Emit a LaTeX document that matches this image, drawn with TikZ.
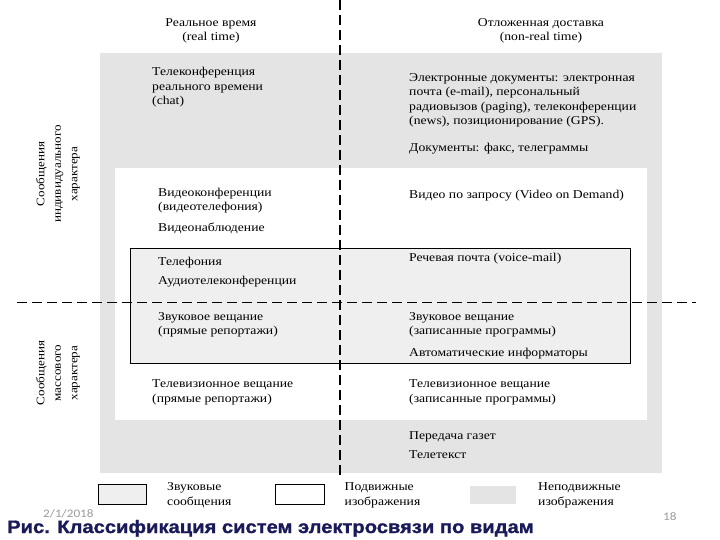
\documentclass[tikz,border=0pt]{standalone}
\usepackage{fontspec}
\setmainfont{Liberation Serif}[FakeStretch=1.14]
\newfontfamily\titlefont{Liberation Sans Bold}[FakeStretch=1.12,FakeBold=1.2]
\newfontfamily\datefont{Carlito}[FakeStretch=1.15]
\definecolor{outergray}{HTML}{E4E4E4}
\definecolor{audiogray}{HTML}{EFEFEF}
\definecolor{titleblue}{HTML}{1A1A5A}
\definecolor{footgray}{HTML}{9A9A9A}
\tikzset{
  txt/.style={anchor=base west, inner sep=0pt, align=left, font=\fontsize{12}{14.5}\selectfont},
  hdr/.style={anchor=base, inner sep=0pt, align=center, font=\fontsize{12}{14.5}\selectfont},
  side/.style={rotate=90, inner sep=0pt, align=center, font=\fontsize{11.5}{16.5}\selectfont},
  divider/.style={line width=1.3pt, dash pattern=on 10pt off 5pt},
  legtxt/.style={anchor=base west, inner sep=0pt, align=left, font=\fontsize{12}{14.5}\selectfont},
}
\begin{document}
\begin{tikzpicture}[x=1pt,y=-1pt]
\useasboundingbox (0,0) rectangle (720,540);
% regions
\fill[outergray] (100,53) rectangle (662,473);
\fill[white] (114.5,168) rectangle (646.5,420);
\draw[fill=audiogray, line width=1pt] (130,248.5) rectangle (630.5,363);
% dividers
\coordinate (vtop) at (340,0);
\coordinate (vbot) at (340,476);
\coordinate (hl) at (17,302.5);
\coordinate (hr) at (696,302.5);
\draw[divider] (vtop) -- (vbot);
\draw[divider] (hl) -- (hr);
% headers (base = last line)
\node[hdr] (h1) at (211,41) {Реальное время\\(real time)};
\node[hdr] (h2) at (541,41) {Отложенная доставка\\(non-real time)};
% side labels
\node[side] (s1) at (58,174) {Сообщения\\индивидуального\\характера};
\node[side] (s2) at (58,373) {Сообщения\\массового\\характера};
% left column
\node[txt] (a1) at (152,105) {Телеконференция\\реального времени\\(chat)};
\node[txt] (a2) at (158,211) {Видеоконференции\\(видеотелефония)};
\node[txt] (a3) at (158,232) {Видеонаблюдение};
\node[txt] (a4) at (158,265) {Телефония};
\node[txt] (a5) at (158,284.5) {Аудиотелеконференции};
\node[txt] (a6) at (158,334.5) {Звуковое вещание\\(прямые репортажи)};
\node[txt] (a7) at (152,402) {Телевизионное вещание\\(прямые репортажи)};
% right column
\node[txt, font=\fontsize{12}{14.3}\selectfont] (b1) at (409,124.5) {Электронные документы: электронная\\почта (e-mail), персональный\\радиовызов (paging), телеконференции\\(news), позиционирование (GPS).};
\node[txt] (b2) at (409,151.5) {Документы: факс, телеграммы};
\node[txt] (b3) at (409,198.5) {Видео по запросу (Video on Demand)};
\node[txt] (b4) at (409,261.5) {Речевая почта (voice-mail)};
\node[txt] (b5) at (409,334.5) {Звуковое вещание\\(записанные программы)};
\node[txt] (b6) at (409,356.5) {Автоматические информаторы};
\node[txt] (b7) at (409,402) {Телевизионное вещание\\(записанные программы)};
\node[txt] (b8) at (409,439.5) {Передача газет};
\node[txt] (b9) at (409,458.5) {Телетекст};
% legend
\draw[fill=audiogray, line width=0.8pt] (98.5,484) rectangle (146.5,504.5);
\node[legtxt] (l1) at (167,505) {Звуковые\\сообщения};
\draw[fill=white, line width=0.8pt] (275.5,484) rectangle (324,504.5);
\node[legtxt] (l2) at (344.5,505) {Подвижные\\изображения};
\fill[outergray] (470,485.5) rectangle (516,503.5);
\node[legtxt] (l3) at (538,505) {Неподвижные\\изображения};
% footer
\node[anchor=base west, inner sep=0pt, text=footgray, font=\datefont\fontsize{11.5}{13}\selectfont] (date) at (43,517) {2/1/2018};
\node[anchor=base west, inner sep=0pt, text=footgray, font=\datefont\fontsize{11.5}{13}\selectfont] (pg) at (663,520) {18};
\node[anchor=base west, inner sep=0pt, text=titleblue, font=\titlefont\fontsize{18}{20}\selectfont] (title) at (7,533) {Рис. Классификация систем электросвязи по видам};
\end{tikzpicture}
\end{document}
